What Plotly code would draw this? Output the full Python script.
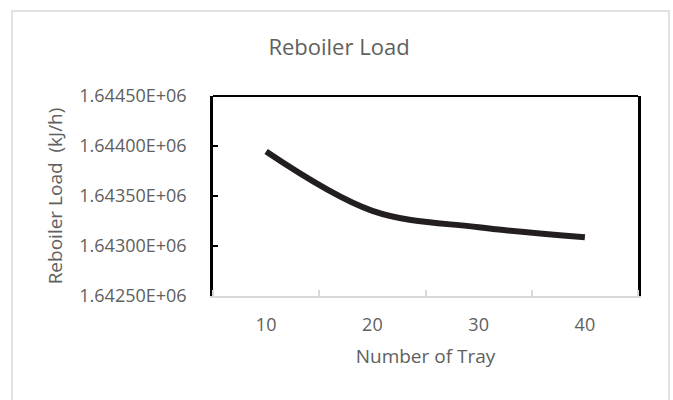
import plotly.graph_objects as go

trays = [10, 20, 30, 40]
reboiler_load = [1643945, 1643352, 1643187, 1643087]

x_tick_vals = [10, 20, 30, 40]
x_tick_text = ["10", "20", "30", "40"]
y_tick_vals = [1642500, 1643000, 1643500, 1644000, 1644500]
y_tick_text = ["1.64250E+06", "1.64300E+06", "1.64350E+06", "1.64400E+06", "1.64450E+06"]

title_text = "Reboiler Load"
x_title = "Number of Tray"
y_title = "Reboiler Load  (kJ/h)"

FONT = "Open Sans"
GRAY = "#606060"

fig = go.Figure()
fig.add_trace(go.Scatter(
    x=trays, y=reboiler_load, mode="lines",
    line=dict(color="#231f20", width=6, shape="spline", smoothing=1.0),
    hoverinfo="skip", showlegend=False,
))

W, H = 673, 400
L, R, T, B = 213, 35, 96, 104
pw, ph = W - L - R, H - T - B

def px_x(p):
    return (p - L) / pw

def px_y(p):
    return (H - B - p) / ph

fig.update_layout(
    width=W, height=H,
    margin=dict(l=L, r=R, t=T, b=B, pad=0),
    paper_bgcolor="white", plot_bgcolor="white",
    font=dict(family=FONT, color=GRAY, size=18),
    title=dict(text=title_text, x=339 / W, xanchor="center", y=1 - 47 / H, yanchor="middle",
               yref="container", font=dict(size=22, color=GRAY, family=FONT)),
    xaxis=dict(
        range=[5, 45], tickmode="array", tickvals=x_tick_vals, ticktext=x_tick_text,
        ticks="", showgrid=False, zeroline=False,
        showline=True, linecolor="#d9d9d9", linewidth=2,
        minor=dict(tickmode="array", tickvals=[5, 15, 25, 35, 45], ticks="inside",
                   ticklen=6, tickwidth=1.5, tickcolor="#d9d9d9", showgrid=False),
        ticklabelstandoff=11,
        tickfont=dict(size=18, color=GRAY, family=FONT),
        title=dict(text=x_title, standoff=15, font=dict(size=19, color=GRAY, family=FONT)),
    ),
    yaxis=dict(
        range=[1642500, 1644500], tickmode="array", tickvals=y_tick_vals, ticktext=y_tick_text,
        ticks="inside", ticklen=5, tickwidth=2, tickcolor="black",
        showgrid=False, zeroline=False,
        showline=True, linecolor="black", linewidth=2.5, mirror=True,
        ticklabelstandoff=20,
        tickfont=dict(size=18, color=GRAY, family=FONT),
        title=dict(text=y_title, standoff=12, font=dict(size=19, color=GRAY, family=FONT)),
    ),
    shapes=[
        dict(type="line", xref="paper", yref="paper", x0=0, x1=1, y0=1, y1=1,
             line=dict(color="black", width=2)),
        dict(type="rect", xref="paper", yref="paper",
             x0=px_x(12), x1=px_x(669), y0=px_y(11), y1=px_y(420),
             line=dict(color="#d9d9d9", width=1.5), layer="below"),
    ],
)

fig.write_html("out.html")
